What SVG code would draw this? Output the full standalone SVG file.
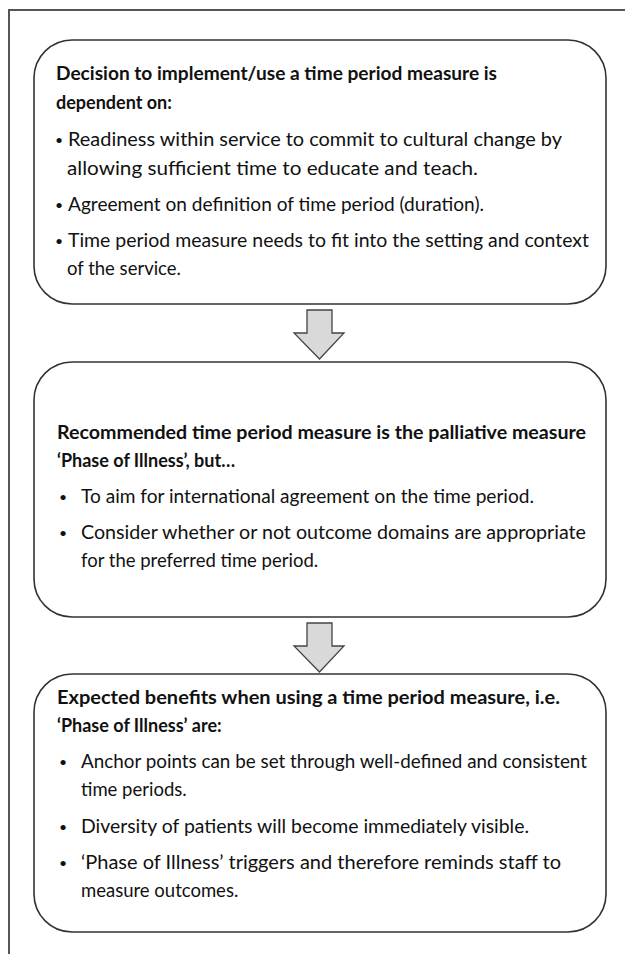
<svg xmlns="http://www.w3.org/2000/svg" width="625" height="954" viewBox="0 0 625 954">
<style>
.frame{fill:none;stroke:#555;stroke-width:2}
.box{fill:#fff;stroke:#333;stroke-width:1.6}
.arrow{fill:#d9d9d9;stroke:#444;stroke-width:1.3;stroke-linejoin:miter}
text{font-family:Lato,"Liberation Sans",Arial,sans-serif;font-size:18.5px;fill:#111}
.b{font-weight:bold;font-size:18px}
.bu{font-size:14px}
</style>
<rect width="625" height="954" fill="#fff"/>
<path class="frame" d="M9,954 V10 H625"/>
<g id="box1">
<rect class="box" x="34" y="40" width="572" height="264" rx="38" ry="38"/>
<text class="b" x="56" y="80" textLength="441" lengthAdjust="spacingAndGlyphs">Decision to implement/use a time period measure is</text>
<text class="b" x="56" y="109">dependent on:</text>
<text class="bu" x="55" y="145">•</text><text x="68" y="146" textLength="494" lengthAdjust="spacingAndGlyphs">Readiness within service to commit to cultural change by</text>
<text x="67" y="175" textLength="411" lengthAdjust="spacingAndGlyphs">allowing sufficient time to educate and teach.</text>
<text class="bu" x="55" y="210">•</text><text x="68" y="211" textLength="416" lengthAdjust="spacingAndGlyphs">Agreement on definition of time period (duration).</text>
<text class="bu" x="55" y="246">•</text><text x="68" y="247" textLength="521" lengthAdjust="spacingAndGlyphs">Time period measure needs to fit into the setting and context</text>
<text x="67" y="275">of the service.</text>
</g>
<g id="box2">
<rect class="box" x="34" y="362" width="572" height="255" rx="38" ry="38"/>
<text class="b" x="57" y="439" textLength="529" lengthAdjust="spacingAndGlyphs">Recommended time period measure is the palliative measure</text>
<text class="b" x="57" y="467">‘Phase of Illness’, but…</text>
<text class="bu" x="59" y="502">•</text><text x="81" y="503" textLength="453" lengthAdjust="spacingAndGlyphs">To aim for international agreement on the time period.</text>
<text class="bu" x="59" y="538">•</text><text x="81" y="539" textLength="505" lengthAdjust="spacingAndGlyphs">Consider whether or not outcome domains are appropriate</text>
<text x="81" y="567">for the preferred time period.</text>
</g>
<g id="box3">
<rect class="box" x="34" y="674" width="572" height="258" rx="38" ry="38"/>
<text class="b" x="57" y="704" textLength="503" lengthAdjust="spacingAndGlyphs">Expected benefits when using a time period measure, i.e.</text>
<text class="b" x="57" y="732">‘Phase of Illness’ are:</text>
<text class="bu" x="59" y="767">•</text><text x="81" y="768" textLength="506" lengthAdjust="spacingAndGlyphs">Anchor points can be set through well-defined and consistent</text>
<text x="81" y="796">time periods.</text>
<text class="bu" x="59" y="832">•</text><text x="81" y="833" textLength="448" lengthAdjust="spacingAndGlyphs">Diversity of patients will become immediately visible.</text>
<text class="bu" x="59" y="868">•</text><text x="81" y="869" textLength="480" lengthAdjust="spacingAndGlyphs">‘Phase of Illness’ triggers and therefore reminds staff to</text>
<text x="81" y="897">measure outcomes.</text>
</g>
<g id="connectors">
<path class="arrow" d="M307,310 H332 V333 H344 L319.5,359 L294,333 H307 Z"/>
<path class="arrow" d="M307,623 H332 V646 H344 L319.5,672 L294,646 H307 Z"/>
</g>
</svg>
